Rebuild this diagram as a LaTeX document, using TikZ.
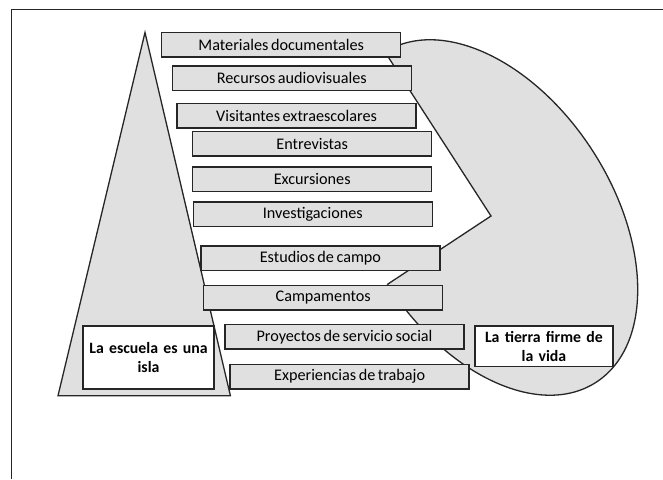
\documentclass[tikz,border=0pt]{standalone}
\usepackage{fontspec}
\setmainfont{Carlito}[WordSpace=0.7]
\definecolor{shapegrey}{HTML}{E0E0E0}
\definecolor{edgegrey}{HTML}{262626}
\begin{document}
\begin{tikzpicture}[x=1pt,y=-1pt,
  greybox/.style={draw=edgegrey,line width=1.5pt,fill=shapegrey,minimum width=239pt,minimum height=24.5pt,inner sep=0pt,font=\fontsize{16.2}{18}\selectfont},
  whitebox/.style={draw=edgegrey,line width=1.5pt,fill=white,inner sep=0pt,align=center,font=\fontsize{15.8}{19.5}\selectfont\bfseries},
  outline/.style={draw=edgegrey,line width=1.3pt,line join=miter}]
\useasboundingbox (0,0) rectangle (663,479);
% frame
\coordinate (fbl) at (11.5,479);
\coordinate (ftl) at (11.5,9.5);
\coordinate (ftr) at (663,9.5);
\draw[draw=edgegrey,line width=1.3pt] (fbl) -- (ftl) -- (ftr);
% ellipse (tierra firme)
\coordinate (ec) at (490,217.5);
\draw[outline,fill=shapegrey,rotate around={-57.3:(ec)}] (ec) ellipse [x radius=196, y radius=122.4];
% notch
\coordinate (n1) at (385,52);
\coordinate (ntip) at (491,216);
\coordinate (n2) at (387.5,284.3);
\fill[white] (n1) -- (ntip) -- (n2) -- (320,284.3) -- (320,52) -- cycle;
\draw[outline] (n1) -- (ntip) -- (n2);
% triangle (escuela)
\coordinate (tapex) at (145,32.5);
\coordinate (tbl) at (58,395.7);
\coordinate (tbr) at (230.4,395.7);
\draw[outline,fill=shapegrey] (tapex) -- (tbl) -- (tbr) -- cycle;
% boxes
\node[greybox] (b1) at (281.2,44.5) {Materiales documentales};
\node[greybox] (b2) at (291.8,78.3) {Recursos audiovisuales};
\node[greybox] (b3) at (296.6,115.8) {Visitantes extraescolares};
\node[greybox] (b4) at (312.2,143.5) {Entrevistas};
\node[greybox] (b5) at (312.2,179.2) {Excursiones};
\node[greybox] (b6) at (312.8,214.3) {Investigaciones};
\node[greybox] (b7) at (320.4,258) {Estudios de campo};
\node[greybox] (b8) at (323.2,297.6) {Campamentos};
\node[greybox] (b9) at (344.5,336.8) {Proyectos de servicio social};
\node[greybox] (b10) at (349.6,376.5) {Experiencias de trabajo};
% white label boxes
\node[whitebox,minimum width=131pt,minimum height=63pt,text width=127pt] (escuela) at (148.5,357.5) {La escuela es una\\isla};
\node[whitebox,minimum width=138.3pt,minimum height=40.7pt,text width=134pt] (tierra) at (543.9,346.3) {La tierra firme de\\la vida};
\end{tikzpicture}
\end{document}
